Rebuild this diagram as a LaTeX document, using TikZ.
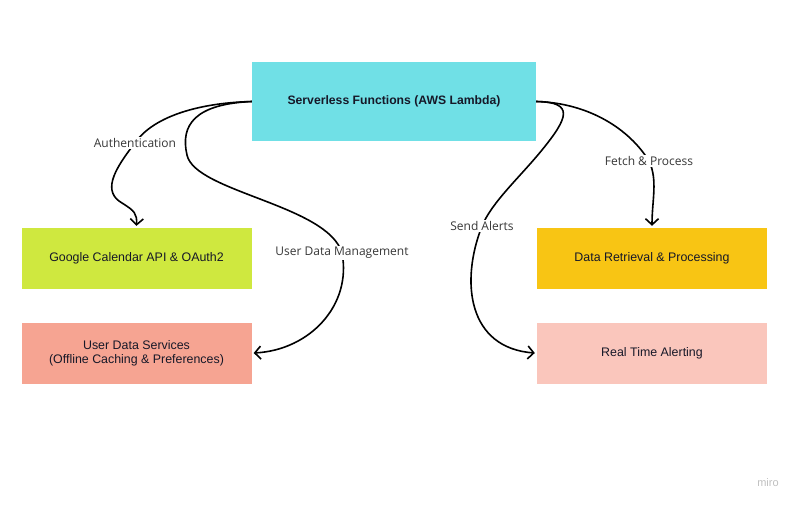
\documentclass[tikz,border=0pt]{standalone}
\usepackage{fontspec}
\setmainfont{Liberation Sans}
\newfontfamily\labelfont{Open Sans}
\usetikzlibrary{arrows.meta}
\definecolor{cTop}{RGB}{112,224,230}
\definecolor{cGoogle}{RGB}{207,232,63}
\definecolor{cUser}{RGB}{246,164,146}
\definecolor{cData}{RGB}{248,197,20}
\definecolor{cAlert}{RGB}{250,198,188}
\definecolor{cText}{RGB}{22,24,40}
\definecolor{cLabel}{RGB}{55,55,55}
\tikzset{
  box/.style={draw=none, minimum width=230pt, minimum height=61pt, inner sep=2pt,
    align=center, text=cText, font=\fontsize{12.4}{14}\selectfont},
  conn/.style={line width=1.6pt, black, -{Straight Barb[length=6pt,width=13pt]}},
  lbl/.style={fill=white, inner sep=1pt, text=cLabel, font=\labelfont\fontsize{12}{14}\selectfont}
}
\begin{document}
\begin{tikzpicture}[x=1pt,y=-1pt]
\useasboundingbox (0,0) rectangle (800,506);
\node[box, fill=cTop, minimum width=284pt, minimum height=79pt, font=\bfseries\fontsize{12.2}{14}\selectfont] (top) at (394,101.5) {Serverless Functions (AWS Lambda)};
\node[box, fill=cGoogle] (google) at (136.5,258.5) {Google Calendar API \& OAuth2};
\node[box, fill=cUser] (uds) at (136.5,353) {User Data Services\\(Offline Caching \& Preferences)};
\node[box, fill=cData] (data) at (652,258.5) {Data Retrieval \& Processing};
\node[box, fill=cAlert] (rta) at (652,353) {Real Time Alerting};

% Authentication
\draw[conn] (top.west) .. controls (195,103) and (152,118) .. (135,143)
  .. controls (112,172) and (103,192) .. (122,203)
  .. controls (135,211) and (137,214) .. ([yshift=2pt]google.north);
\node[lbl] (lAuth) at (135,143) {Authentication};

% User Data Management
\draw[conn] (top.west) .. controls (195,104) and (180,125) .. (187,155)
  .. controls (195,192) and (328,205) .. (342,253)
  .. controls (352,305) and (310,350) .. ([xshift=2pt]uds.east);
\node[lbl] (lUdm) at (342,253) {User Data Management};

% Fetch & Process
\draw[conn] (top.east) .. controls (590,103) and (630,130) .. (649,161)
  .. controls (658,180) and (652,200) .. ([yshift=2pt]data.north);
\node[lbl] (lFetch) at (649,161) {Fetch \& Process};

% Send Alerts
\draw[conn] (top.east) .. controls (575,102) and (568,118) .. (542,150)
  .. controls (520,177) and (492,202) .. (482,226)
  .. controls (460,282) and (468,348) .. ([xshift=-2pt]rta.west);
\node[lbl] (lSend) at (482,226) {Send Alerts};

\node[text=black!25, font=\fontsize{11}{12}\selectfont] (miro) at (768,483) {miro};
\end{tikzpicture}
\end{document}
